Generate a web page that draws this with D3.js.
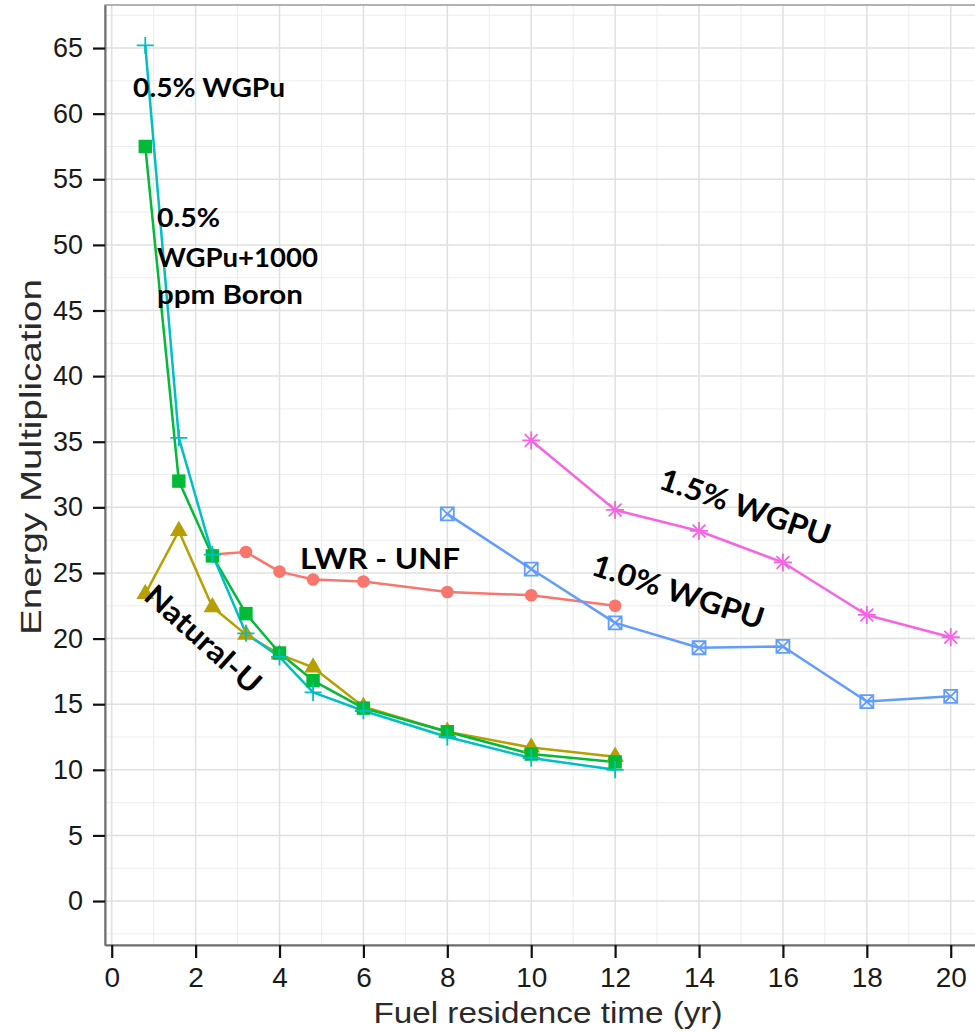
<!DOCTYPE html>
<html>
<head>
<meta charset="utf-8">
<script src="https://cdn.jsdelivr.net/npm/d3@7"></script>
<style>
	body { margin: 0; background: #fff; }
	svg { display: block; }
</style>
</head>
<body>
<script>
// fuel residence time (yr) for each run
const xsCore = [0.8, 1.6, 2.4, 3.2, 4, 4.8, 6, 8, 10, 12];
const xsLwr = [2.4, 3.2, 4, 4.8, 6, 8, 10, 12];
const xsWg10 = [8, 10, 12, 14, 16, 18, 20];
const xsWg15 = [10, 12, 14, 16, 18, 20];

// energy multiplication
const lwrUnf = [26.4, 26.6, 25.1, 24.5, 24.35, 23.55, 23.3, 22.5];
const naturalU = [23.4, 28.2, 22.4, 20.3, 18.8, 17.8, 14.8, 12.9, 11.7, 11.0];
const wgpuBoron = [57.5, 32.0, 26.3, 21.9, 18.9, 16.8, 14.7, 12.9, 11.2, 10.6];
const wgpu05 = [65.2, 35.3, 26.4, 20.4, 18.6, 15.9, 14.5, 12.5, 10.9, 10.0];
const wgpu10 = [29.5, 25.3, 21.2, 19.3, 19.4, 15.2, 15.6];
const wgpu15 = [35.1, 29.8, 28.2, 25.8, 21.8, 20.1];

const xTicks = [0, 2, 4, 6, 8, 10, 12, 14, 16, 18, 20];
const yTicks = [0, 5, 10, 15, 20, 25, 30, 35, 40, 45, 50, 55, 60, 65];

const series = [
	{ name: "LWR - UNF", xs: xsLwr, ys: lwrUnf, colour: "#F8766D", shape: "circle" },
	{ name: "Natural-U", xs: xsCore, ys: naturalU, colour: "#B79F00", shape: "triangle" },
	{ name: "0.5% WGPu+1000 ppm Boron", xs: xsCore, ys: wgpuBoron, colour: "#00BA38", shape: "square" },
	{ name: "0.5% WGPu", xs: xsCore, ys: wgpu05, colour: "#00BFC4", shape: "plus" },
	{ name: "1.0% WGPU", xs: xsWg10, ys: wgpu10, colour: "#619CFF", shape: "boxcross" },
	{ name: "1.5% WGPU", xs: xsWg15, ys: wgpu15, colour: "#F564E3", shape: "asterisk" }
].map(s => ({ ...s, points: s.xs.map((x, i) => ({ x: x, y: s.ys[i] })) }));

const width = 975, height = 1032;
const panel = { left: 105, right: 991, top: 5, bottom: 945 };

const x = d3.scaleLinear()
	.domain([-0.16, 20.96])
	.range([panel.left, panel.right]);

const y = d3.scaleLinear()
	.domain([-3.35, 68.28])
	.range([panel.bottom, panel.top]);

const svg = d3.select("body").append("svg")
	.attr("width", width)
	.attr("height", height);

// grid
const grid = svg.append("g");
grid.selectAll("line.ymin")
	.data(d3.range(-2.5, 68, 5))
	.join("line")
	.attr("stroke", "#ededed")
	.attr("stroke-width", 1)
	.attr("x1", panel.left).attr("x2", panel.right)
	.attr("y1", d => y(d)).attr("y2", d => y(d));
grid.selectAll("line.xmin")
	.data(d3.range(1, 21, 2))
	.join("line")
	.attr("stroke", "#ededed")
	.attr("stroke-width", 1)
	.attr("y1", panel.top).attr("y2", panel.bottom)
	.attr("x1", d => x(d)).attr("x2", d => x(d));
grid.append("g").selectAll("line")
	.data(yTicks)
	.join("line")
	.attr("stroke", "#e0e0e0")
	.attr("stroke-width", 1.5)
	.attr("x1", panel.left).attr("x2", panel.right)
	.attr("y1", d => y(d)).attr("y2", d => y(d));
grid.append("g").selectAll("line")
	.data(xTicks)
	.join("line")
	.attr("stroke", "#e0e0e0")
	.attr("stroke-width", 1.5)
	.attr("y1", panel.top).attr("y2", panel.bottom)
	.attr("x1", d => x(d)).attr("x2", d => x(d));

svg.append("rect")
	.attr("x", panel.left).attr("y", panel.top)
	.attr("width", panel.right - panel.left)
	.attr("height", panel.bottom - panel.top)
	.attr("fill", "none")
	.attr("stroke", "#9a9a9a")
	.attr("stroke-width", 1.5);

// lines, then points
const line = d3.line().x(d => x(d.x)).y(d => y(d.y));

svg.append("g").selectAll("path")
	.data(series)
	.join("path")
	.attr("fill", "none")
	.attr("stroke", d => d.colour)
	.attr("stroke-width", 2.5)
	.attr("stroke-linejoin", "round")
	.attr("d", d => line(d.points));

function marker(shape) {
	switch (shape) {
		case "circle": return d3.symbol(d3.symbolCircle, 125)();
		case "triangle": return d3.symbol(d3.symbolTriangle, 135)();
		case "square": return d3.symbol(d3.symbolSquare, 180)();
		case "plus": return "M-8.5,0H8.5M0,-8.5V8.5";
		case "boxcross": return "M-6.5,-6.5H6.5V6.5H-6.5ZM-6.5,-6.5L6.5,6.5M6.5,-6.5L-6.5,6.5";
		case "asterisk": return "M-9,0H9M0,-9V9M-6.4,-6.4L6.4,6.4M6.4,-6.4L-6.4,6.4";
	}
}
const filled = s => ["circle", "triangle", "square"].includes(s);

series.forEach(s => {
	svg.append("g")
		.selectAll("path")
		.data(s.points)
		.join("path")
		.attr("transform", d => `translate(${x(d.x)},${y(d.y)})`)
		.attr("d", marker(s.shape))
		.attr("fill", filled(s.shape) ? s.colour : "none")
		.attr("stroke", filled(s.shape) ? "none" : s.colour)
		.attr("stroke-width", 1.8);
});

// axes
const yAxis = svg.append("g")
	.attr("transform", `translate(${panel.left},0)`)
	.call(d3.axisLeft(y).tickValues(yTicks).tickSize(12).tickSizeOuter(0).tickPadding(10));
const xAxis = svg.append("g")
	.attr("transform", `translate(0,${panel.bottom})`)
	.call(d3.axisBottom(x).tickValues(xTicks).tickSize(13).tickSizeOuter(0).tickPadding(9));

[yAxis, xAxis].forEach(g => {
	g.select(".domain").attr("stroke", "#6e6e6e").attr("stroke-width", 2);
	g.selectAll(".tick line").attr("stroke", "#111").attr("stroke-width", 2.2);
	g.selectAll(".tick text")
		.attr("fill", "#1a1a1a")
		.attr("font-family", "'Liberation Sans', Arial, sans-serif");
});
yAxis.selectAll(".tick text").attr("font-size", 27);
xAxis.selectAll(".tick text").attr("font-size", 28);

svg.append("text")
	.attr("x", 548)
	.attr("y", 1023)
	.attr("text-anchor", "middle")
	.attr("font-family", "'Liberation Sans', Arial, sans-serif")
	.attr("font-size", 30)
	.attr("fill", "#2a2a2a")
	.attr("textLength", 349)
	.attr("lengthAdjust", "spacingAndGlyphs")
	.text("Fuel residence time (yr)");

svg.append("text")
	.attr("transform", "translate(41,457) rotate(-90)")
	.attr("text-anchor", "middle")
	.attr("font-family", "'Liberation Sans', Arial, sans-serif")
	.attr("font-size", 30)
	.attr("fill", "#2a2a2a")
	.attr("textLength", 356)
	.attr("lengthAdjust", "spacingAndGlyphs")
	.text("Energy Multiplication");

// annotations placed in data coordinates
const note = (txt, xv, yv, size, len, angle, anchor) => svg.append("text")
	.attr("transform", `translate(${x(xv)},${y(yv)}) rotate(${angle || 0})`)
	.attr("text-anchor", anchor || "start")
	.attr("dy", anchor ? "0.35em" : null)
	.attr("font-family", "Lato, 'Open Sans', sans-serif")
	.attr("font-weight", "bold")
	.attr("font-size", size)
	.attr("fill", "#000")
	.attr("textLength", len)
	.attr("lengthAdjust", "spacingAndGlyphs")
	.text(txt);

note("0.5% WGPu", 0.51, 61.27, 27, 152);
note("0.5%", 1.08, 51.36, 26, 63);
note("WGPu+1000", 1.08, 48.31, 26, 161);
note("ppm Boron", 1.08, 45.49, 26, 146);
note("LWR - UNF", 4.49, 25.3, 29, 160);
note("Natural-U", 2.18, 19.96, 30, 145, 42, "middle");
note("1.5% WGPU", 15.1, 30.02, 30, 179, 19, "middle");
note("1.0% WGPU", 13.5, 23.55, 30, 179, 18, "middle");
</script>
</body>
</html>
